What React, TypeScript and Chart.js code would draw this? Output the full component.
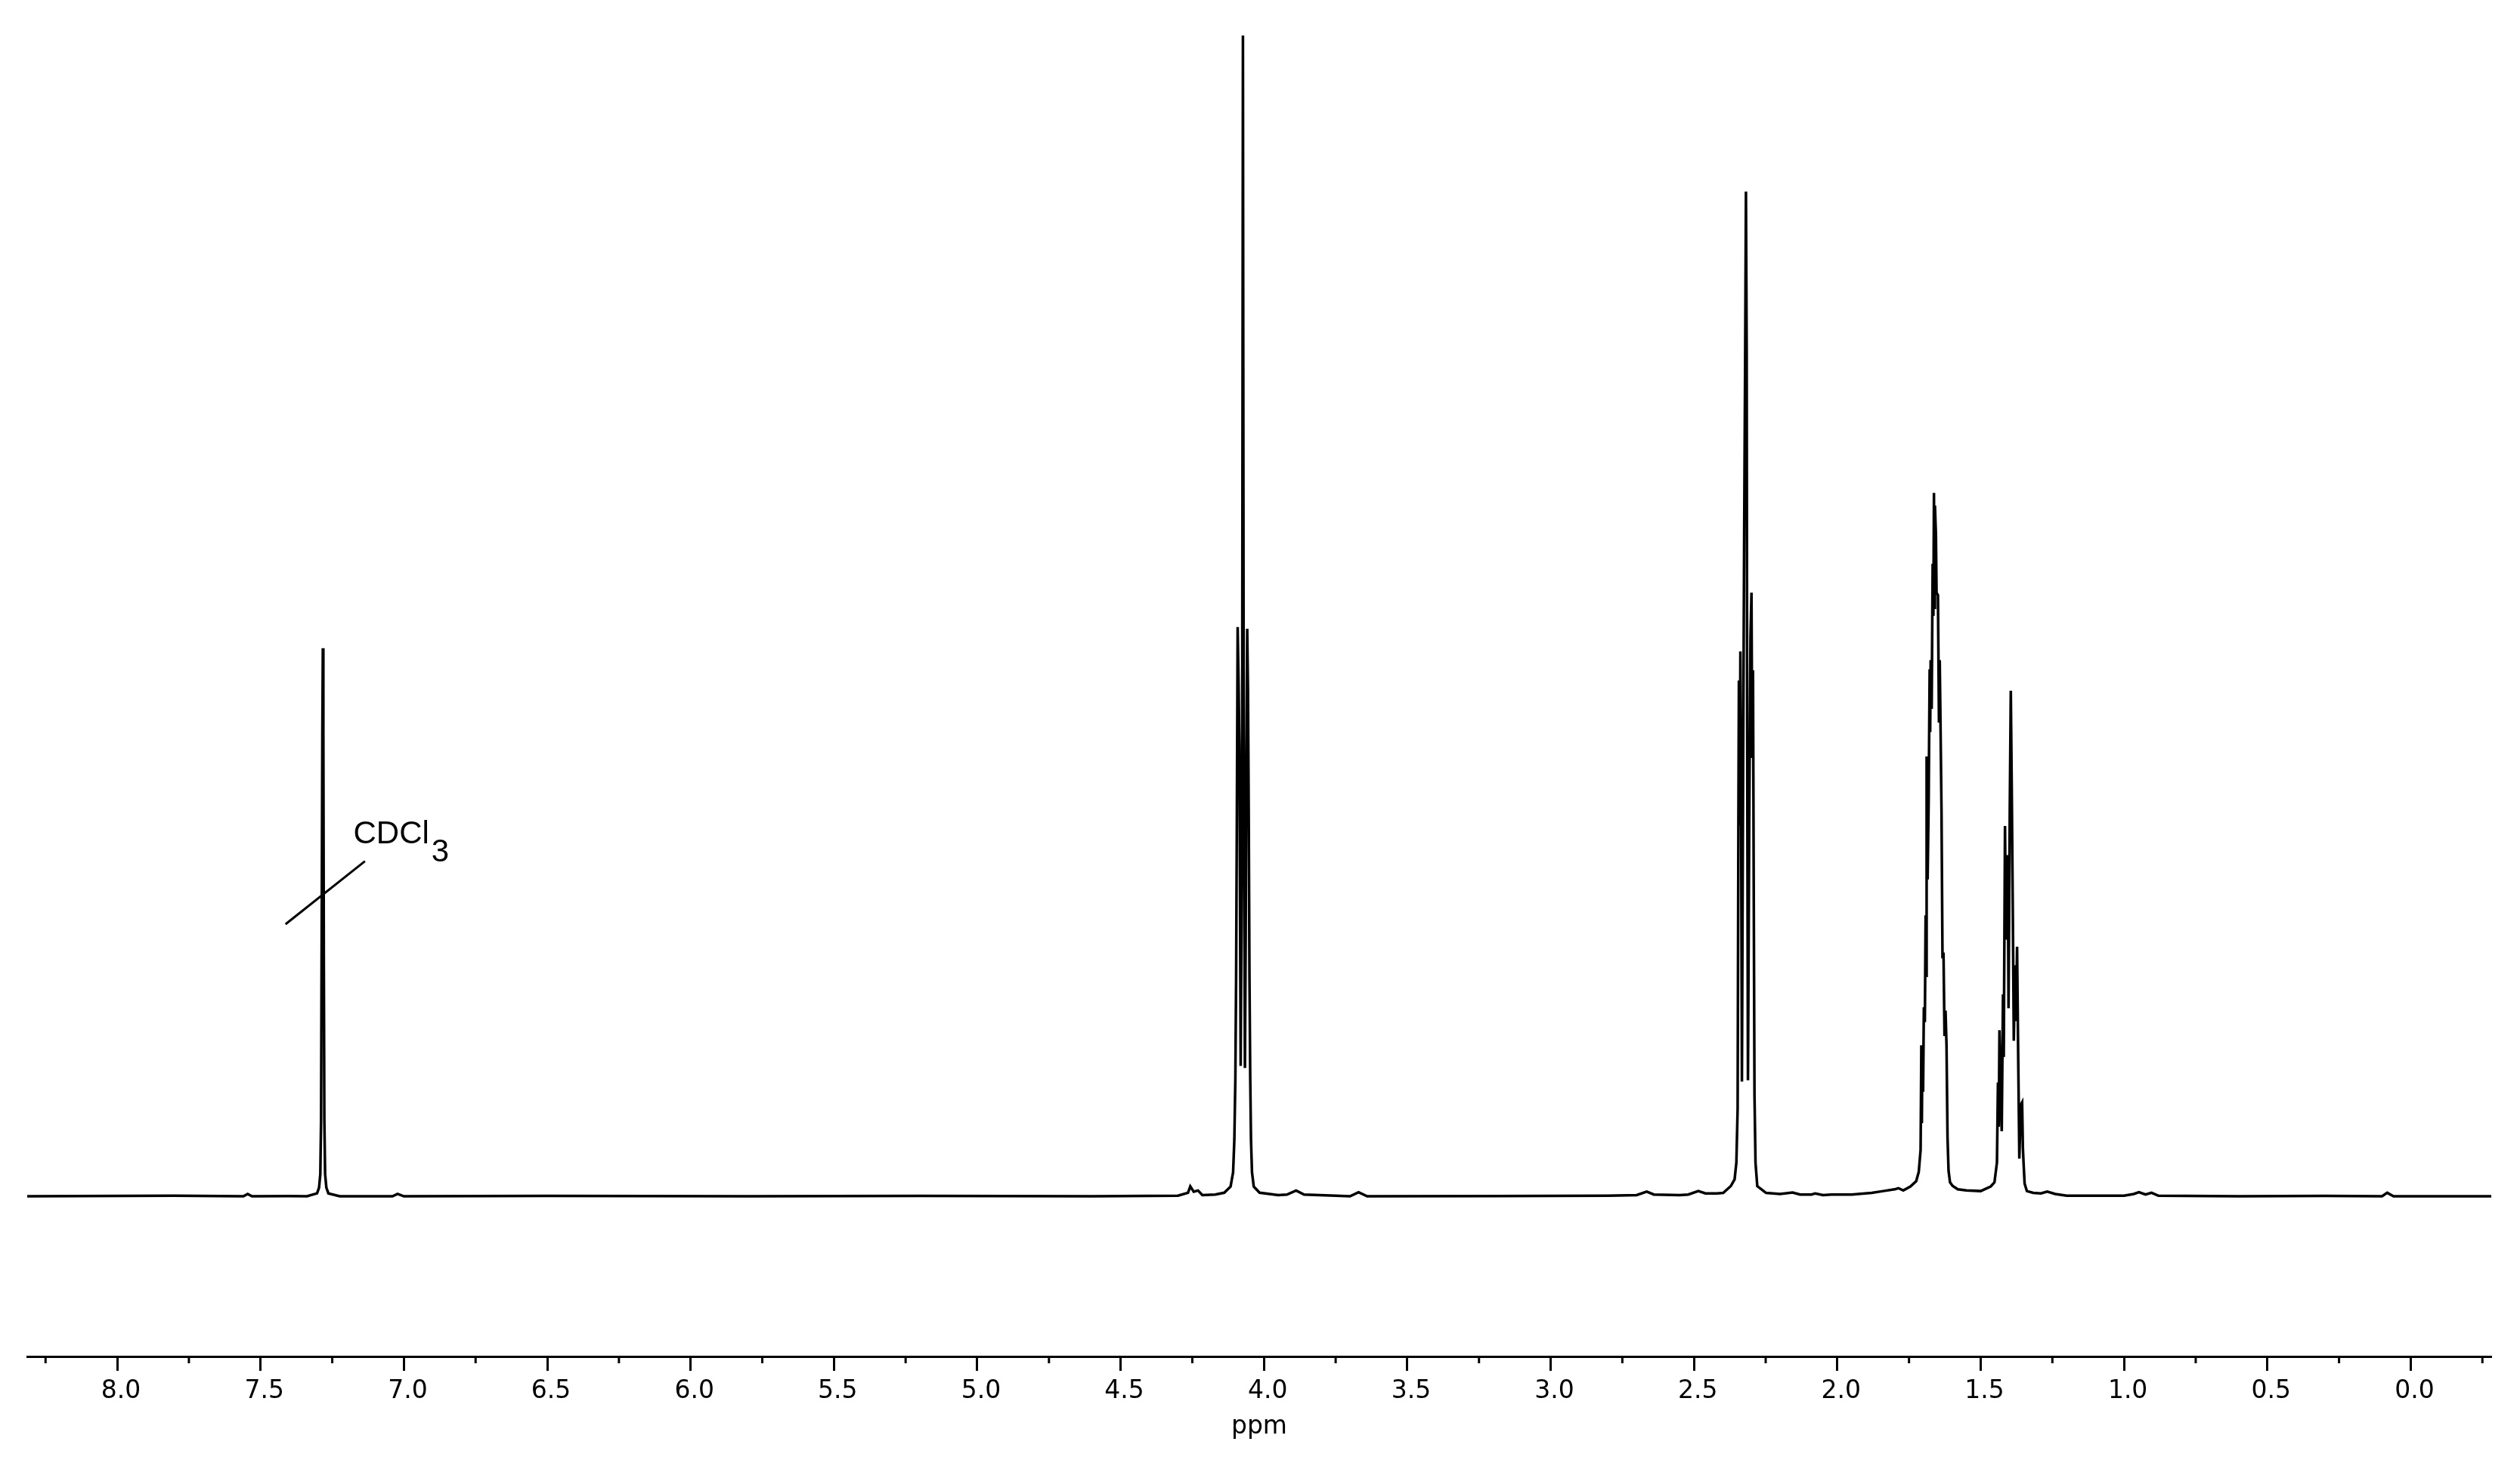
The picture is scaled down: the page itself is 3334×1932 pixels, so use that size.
import React, { useEffect, useRef } from "react";
import { Chart, registerables } from "chart.js";

Chart.register(...registerables);

// ---- axis ----
const majorTicks = [8.0, 7.5, 7.0, 6.5, 6.0, 5.5, 5.0, 4.5, 4.0, 3.5, 3.0, 2.5, 2.0, 1.5, 1.0, 0.5, 0.0];
const minorTicks = [8.25, 7.75, 7.25, 6.75, 6.25, 5.75, 5.25, 4.75, 4.25, 3.75, 3.25, 2.75, 2.25, 1.75, 1.25, 0.75, 0.25, -0.25];
const axisTitle = "ppm";
const ppmMax = 8.314;
const ppmMin = -0.281;

// ---- spectrum (ppm, relative intensity) ----
const baselinePpm = [8.314, 7.8, 7.56, 7.545, 7.53, 7.4, 7.1, 7.04, 7.022, 7.0, 6.5, 5.8, 5.2, 4.6, 4.3, 4.265, 4.257, 4.245, 4.23, 4.215, 4.17,
  3.95, 3.92, 3.888, 3.86, 3.75, 3.7, 3.67, 3.64, 3.2, 2.8, 2.7, 2.665, 2.64, 2.55, 2.52, 2.485, 2.46, 2.42,
  2.2, 2.156, 2.13, 2.09, 2.077, 2.05, 2.021, 1.95, 1.88, 1.84, 1.8, 1.787, 1.77, 1.745, 1.725, 1.716,
  1.58, 1.55, 1.5, 1.465, 1.29, 1.268, 1.24, 1.2, 1.0, 0.966, 0.948, 0.925, 0.904, 0.88, 0.6, 0.3, 0.1, 0.082, 0.06, -0.281];
const baselineInt = [0, 0.05, 0, 0.2, 0, 0.02, 0, 0, 0.2, 0, 0.03, 0, 0.03, 0, 0.05, 0.3, 0.85, 0.4, 0.5, 0.1, 0.15,
  0.1, 0.15, 0.5, 0.15, 0.05, 0, 0.35, 0, 0.02, 0.05, 0.1, 0.4, 0.15, 0.1, 0.15, 0.45, 0.25, 0.25,
  0.2, 0.33, 0.15, 0.15, 0.25, 0.1, 0.15, 0.15, 0.3, 0.45, 0.6, 0.7, 0.5, 0.85, 1.3, 2.1,
  0.6, 0.5, 0.45, 0.85, 0.25, 0.4, 0.2, 0.05, 0.05, 0.2, 0.35, 0.15, 0.3, 0.05, 0, 0.03, 0, 0.3, 0, 0];

const cdcl3Ppm = [7.3382, 7.303, 7.296, 7.2916, 7.289, 7.2872, 7.2845, 7.2828, 7.281, 7.2793, 7.2775, 7.2749, 7.2705, 7.2634, 7.2239];
const cdcl3Int = [0, 0.25, 0.74, 1.91, 6.55, 19.83, 39.75, 47.22, 39.75, 19.83, 6.55, 1.91, 0.74, 0.25, 0];

const t408Ppm = [4.1385, 4.1165, 4.1077, 4.1033, 4.0998, 4.0971, 4.0945, 4.0918, 4.0883, 4.0857, 4.0831, 4.0813, 4.0787, 4.076, 4.0734,
  4.0708, 4.0681, 4.0664, 4.0637, 4.0611, 4.0585, 4.0558, 4.0532, 4.0506, 4.0479, 4.0453, 4.0418, 4.0356, 4.0154];
const t408Int = [0.31, 0.84, 2.07, 4.89, 10.18, 19.0, 33.1, 49.04, 43.68, 38.75, 22.52, 11.24, 22.52, 40.16, 100,
  40.16, 22.52, 11.06, 22.52, 38.75, 48.9, 43.68, 33.1, 19.0, 10.18, 4.89, 2.07, 0.84, 0.31];

const t233Ppm = [2.398, 2.3716, 2.3584, 2.3522, 2.3478, 2.3452, 2.3434, 2.3408, 2.3382, 2.3355, 2.3329, 2.3285, 2.325, 2.3215, 2.3188,
  2.3162, 2.3144, 2.3118, 2.3074, 2.303, 2.2995, 2.2969, 2.2942, 2.2916, 2.289, 2.2855, 2.2793, 2.2486];
const t233Int = [0.29, 0.88, 1.46, 2.91, 7.55, 31.95, 44.44, 31.95, 46.94, 31.95, 9.88, 37.76, 57.22, 72.62, 86.56,
  72.62, 37.76, 9.99, 31.95, 48.22, 52.0, 37.76, 45.32, 26.15, 8.72, 2.91, 0.88, 0.29];

const m167Ppm = [1.7096, 1.707, 1.7052, 1.7035, 1.7009, 1.6982, 1.6947, 1.6921, 1.6905, 1.6886, 1.6851, 1.6815, 1.678, 1.6762, 1.6745,
  1.671, 1.6675, 1.665, 1.663, 1.661, 1.6596, 1.6561, 1.654, 1.6491, 1.6455, 1.6429, 1.6403, 1.6367, 1.6332, 1.6297, 1.6262,
  1.6227, 1.6192, 1.6157, 1.6121, 1.6069, 1.5981];
const m167Int = [4.0, 13.0, 6.3, 13.0, 9.0, 16.3, 15.0, 24.2, 19.0, 37.9, 27.3, 34.0, 45.4, 40.0, 46.2,
  42.0, 54.5, 50.0, 60.6, 50.7, 59.5, 57.0, 52.0, 51.8, 40.8, 46.2, 41.0, 33.3, 20.5, 21.0, 13.8,
  16.0, 13.0, 5.1, 2.2, 1.2, 0.9];

const m141Ppm = [1.452, 1.4433, 1.4398, 1.437, 1.4345, 1.4266, 1.4222, 1.4195, 1.4152, 1.4117, 1.4055, 1.4029, 1.3985, 1.395, 1.3915,
  1.388, 1.3845, 1.3801, 1.3766, 1.3731, 1.3687, 1.3652, 1.3599, 1.3555, 1.3529, 1.3503, 1.3468, 1.3389, 1.3168];
const m141Int = [1.2, 2.9, 9.8, 6.0, 14.3, 5.6, 17.4, 12.0, 31.9, 22.1, 29.4, 16.2, 33.6, 43.55, 34.8,
  24.7, 13.4, 19.9, 15.1, 21.5, 11.0, 3.25, 7.9, 8.1, 4.2, 2.8, 1.1, 0.45, 0.3];

// ---- annotation ----
const solventText = "CDCl";
const solventSub = "3";
const solventLabelAt = { ppm: 7.1764, intensity: 30.42 };
const solventLeader = { fromPpm: 7.413, fromInt: 23.44, toPpm: 7.136, toInt: 28.87 };

const yMin = -13.8;
const yMax = 101.76;

function buildPoints() {
  const pairs: { x: number; y: number }[] = [];
  const add = (p: number[], v: number[]) => p.forEach((x, i) => pairs.push({ x, y: v[i] }));
  add(baselinePpm, baselineInt);
  add(cdcl3Ppm, cdcl3Int);
  add(t408Ppm, t408Int);
  add(t233Ppm, t233Int);
  add(m167Ppm, m167Int);
  add(m141Ppm, m141Int);
  pairs.sort((a, b) => b.x - a.x);
  return pairs;
}

const minorTickPlugin = {
  id: "minorTicks",
  afterDraw(chart: any) {
    const xs = chart.scales.x;
    const ctx = chart.ctx;
    const bottom = chart.chartArea.bottom;
    ctx.save();
    ctx.strokeStyle = "#000";
    ctx.lineWidth = 3;
    minorTicks.forEach((v) => {
      const px = xs.getPixelForValue(v);
      ctx.beginPath();
      ctx.moveTo(px, bottom);
      ctx.lineTo(px, bottom + 9);
      ctx.stroke();
    });
    ctx.restore();
  },
};

const solventPlugin = {
  id: "solventLabel",
  afterDatasetsDraw(chart: any) {
    const xs = chart.scales.x;
    const ys = chart.scales.y;
    const ctx = chart.ctx;
    ctx.save();
    ctx.strokeStyle = "#000";
    ctx.lineWidth = 3;
    ctx.beginPath();
    ctx.moveTo(xs.getPixelForValue(solventLeader.fromPpm), ys.getPixelForValue(solventLeader.fromInt));
    ctx.lineTo(xs.getPixelForValue(solventLeader.toPpm), ys.getPixelForValue(solventLeader.toInt));
    ctx.stroke();
    ctx.fillStyle = "#000";
    ctx.font = "42px 'Liberation Sans', Arial, sans-serif";
    ctx.textBaseline = "alphabetic";
    ctx.textAlign = "left";
    const tx = xs.getPixelForValue(solventLabelAt.ppm);
    const ty = ys.getPixelForValue(solventLabelAt.intensity);
    ctx.fillText(solventText, tx, ty);
    const w = ctx.measureText(solventText).width;
    ctx.fillText(solventSub, tx + w + 3, ty + 24);
    ctx.restore();
  },
};

export default function App() {
  const canvasRef = useRef<HTMLCanvasElement | null>(null);

  useEffect(() => {
    const canvas = canvasRef.current;
    if (!canvas) return;
    const chart = new Chart(canvas, {
      type: "line",
      data: {
        datasets: [
          {
            data: buildPoints(),
            borderColor: "#000",
            borderWidth: 3.5,
            pointRadius: 0,
            tension: 0,
            fill: false,
          },
        ],
      },
      options: {
        animation: false,
        responsive: false,
        maintainAspectRatio: false,
        layout: { padding: { left: 36, right: 38, top: 20, bottom: 0 } },
        plugins: { legend: { display: false }, tooltip: { enabled: false } },
        scales: {
          x: {
            type: "linear",
            reverse: true,
            min: ppmMin,
            max: ppmMax,
            afterBuildTicks: (scale: any) => {
              scale.ticks = majorTicks.map((v) => ({ value: v }));
            },
            afterFit: (scale: any) => {
              scale.height = 137;
            },
            grid: {
              drawOnChartArea: false,
              drawTicks: true,
              tickLength: 19,
              tickWidth: 3,
              tickColor: "#000",
            },
            border: { display: true, color: "#000", width: 3 },
            ticks: {
              color: "#000",
              font: { family: "'DejaVu Sans'", size: 33 },
              padding: 8,
              labelOffset: 5,
              maxRotation: 0,
              autoSkip: false,
              callback: (v: any) => Number(v).toFixed(1),
            },
            title: {
              display: true,
              text: axisTitle,
              color: "#000",
              font: { family: "'DejaVu Sans'", size: 33 },
              padding: { top: 0, bottom: 24 },
            },
          },
          y: { display: false, min: yMin, max: yMax },
        },
      },
      plugins: [minorTickPlugin, solventPlugin],
    });
    return () => chart.destroy();
  }, []);

  return (
    <div style={{ position: "fixed", left: 0, top: 0, width: 3334, height: 1932, background: "#fff" }}>
      <canvas ref={canvasRef} width={3334} height={1932} style={{ display: "block" }} />
    </div>
  );
}
